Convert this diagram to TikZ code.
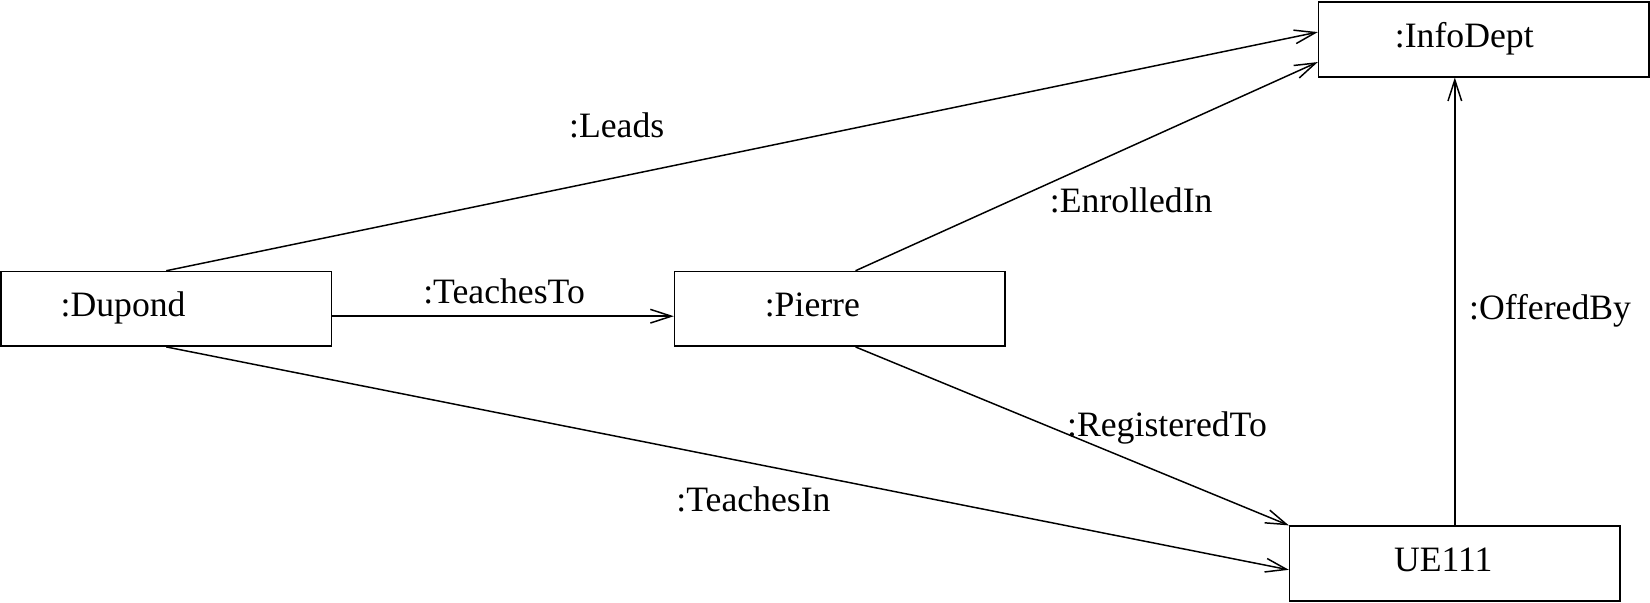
\documentclass[tikz,border=0pt]{standalone}
\usepackage{fontspec}
\setmainfont{Liberation Serif}
\usetikzlibrary{arrows.meta,calc}

\begin{document}
\begin{tikzpicture}[
    obj/.style={draw,line width=0.8pt,minimum width=6.28cm,minimum height=1.42cm,inner sep=0pt},
    txt/.style={anchor=base,inner sep=0pt,font=\fontsize{19.3}{23}\selectfont},
    link/.style={line width=0.8pt,-{Straight Barb[length=0.4cm,width=0.26cm,line width=0.8pt]}}
]
    \def\dy{0.15}
    \useasboundingbox (0,0) rectangle (31.36,11.46);
    % objects
    \node [obj] (dupond) at (3.16,5.59) {};
    \node [obj] (pierre) at (15.96,5.59) {};
    \node [obj] (infodept) at (28.2,10.71) {};
    \node [obj] (ue) at (27.65,0.75) {};
    \node [txt] (dupondname) at ($(dupond)+(-0.82,-\dy)$) {:Dupond};
    \node [txt] (pierrename) at ($(pierre)+(-0.52,-\dy)$) {:Pierre};
    \node [txt] (infodeptname) at ($(infodept)+(-0.37,-\dy)$) {:InfoDept};
    \node [txt] (uename) at ($(ue)+(-0.22,-\dy)$) {UE111};
    % links
    \draw [link] (dupond.north) -- ([yshift=0.14cm]infodept.west);
    \draw [link] ([xshift=0.3cm]pierre.north) -- ([yshift=-0.43cm]infodept.west);
    \draw [link] ([yshift=-0.14cm]dupond.east) -- ([yshift=-0.14cm]pierre.west);
    \draw [link] (dupond.south) -- ([yshift=-0.12cm]ue.west);
    \draw [link] ([xshift=0.3cm]pierre.south) -- (ue.north west);
    \draw [link] (ue.north) -- (ue.north |- infodept.south);
    \node [txt] (leads) at (11.72,8.84) {:Leads};
    \node [txt] (enrolled) at (21.5,7.42) {:EnrolledIn};
    \node [txt] (teachesto) at (9.58,5.70) {:TeachesTo};
    \node [txt] (registered) at (22.18,3.16) {:RegisteredTo};
    \node [txt] (teachesin) at (14.32,1.74) {:TeachesIn};
    \node [txt] (offered) at (29.46,5.38) {:OfferedBy};
\end{tikzpicture}
\end{document}
